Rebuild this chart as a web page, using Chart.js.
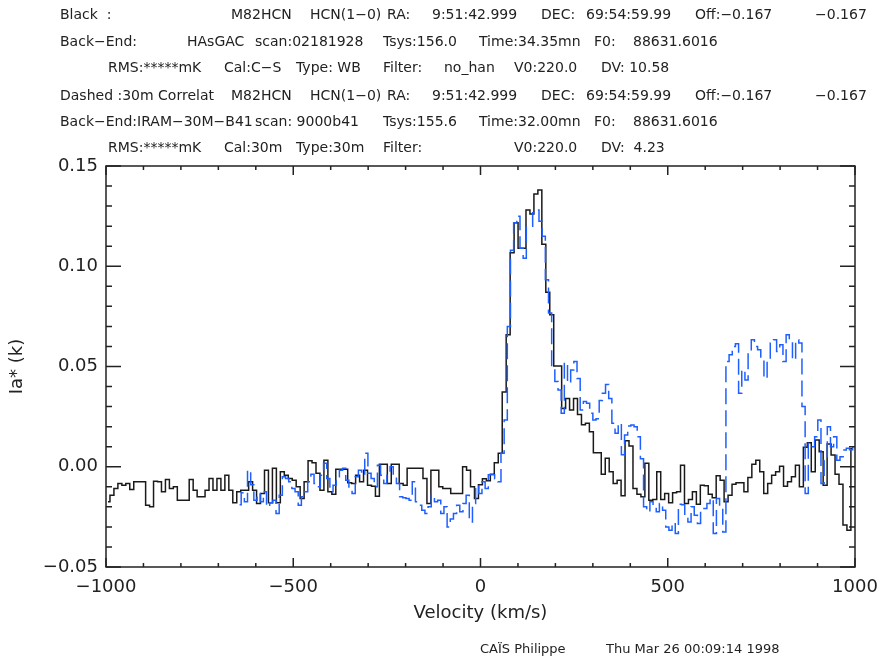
<!DOCTYPE html>
<html>
<head>
<meta charset="UTF-8">
<title>M82HCN HCN(1-0)</title>
<script src="https://cdn.jsdelivr.net/npm/chart.js"></script>
<style>
  html, body { margin: 0; padding: 0; background: #fff; }
  #wrap { width: 878px; height: 662px; position: relative; }
</style>
</head>
<body>
<div id="wrap"><canvas id="spec"></canvas></div>
<script>
// black spectrum: channels of 10.58 km/s starting at -1000 km/s
const blackStart = -1000;
const blackStep = 10.58;
const blackValues = [
  -0.0175, -0.0142, -0.0108, -0.0083, -0.0092, -0.0083, -0.0113, -0.0075, -0.0075, -0.0075,
  -0.0192, -0.02, -0.0072, -0.0075, -0.0125, -0.0063, -0.0108, -0.01, -0.0167, -0.0167,
  -0.0167, -0.0063, -0.0117, -0.015, -0.015, -0.0117, -0.0058, -0.0117, -0.0058, -0.0117,
  -0.0042, -0.0117, -0.018, -0.0125, -0.0117, -0.0117, -0.0075, -0.0117, -0.0183, -0.0133,
  -0.0017, -0.018, -0.0008, -0.018, -0.0025, -0.0042, -0.0058, -0.0067, -0.01, -0.0158,
  -0.0075, 0.003, 0.002, -0.0033, -0.0117, 0.0033, -0.0125, -0.0137, -0.0013, -0.0013,
  -0.0013, -0.008, -0.0083, -0.0042, -0.0075, -0.0017, -0.0092, -0.0097, -0.0147, 0.0013,
  0.0013, -0.0083, 0.0013, 0.0013, -0.0083, -0.0092, -0.0008, -0.0008, -0.0008, -0.0008,
  -0.0058, -0.0183, -0.0017, -0.0017, -0.01, -0.0108, -0.0108, -0.0133, -0.0133, -0.0133,
  0.0, -0.0017, -0.01, -0.0158,
  -0.009, -0.006, -0.007, -0.0037, 0.002, 0.0067, 0.0373, 0.0658, 0.1067, 0.1217,
  0.109, 0.109, 0.128, 0.126, 0.136, 0.138, 0.111, 0.087, 0.0758, 0.0503,
  0.0503, 0.029, 0.034, 0.0283, 0.034, 0.026, 0.021, 0.0217, 0.0175, 0.007,
  0.007,
  -0.0037, 0.0042, -0.0025, -0.0083, -0.0067, -0.0145, 0.013, 0.0103, -0.0108, -0.0137,
  -0.015, 0.0017, -0.0167, -0.0163, -0.0025, -0.0163, -0.0133, -0.018, -0.013, -0.0125,
  0.0008, -0.0183, -0.0163, -0.0125, -0.0187, -0.0092, -0.0095, -0.0137, -0.0155, -0.0045,
  -0.0067, -0.0175,
  -0.0142, -0.0087, -0.008, -0.008, -0.0125, -0.0053, 0.0013, 0.0033, -0.0025, -0.0133,
  -0.0083, -0.0042, -0.0025, 0.0003, -0.0097, -0.0075, -0.005, 0.0007, -0.01, 0.0097,
  0.012, -0.0025, 0.0133, 0.0075, -0.0092, 0.0113, 0.0058, -0.0037, -0.0087, -0.029,
  -0.0317, 0.009
];

// dashed (30m correlator) spectrum, read every 8.46 km/s from -647.5 km/s
const blueStart = -647.5;
const blueStep = 8.46;
const blueValues = [
  -0.019, -0.013, -0.0175, -0.0017, -0.009, -0.0167, -0.0133, -0.0175, -0.0125, -0.02,
  -0.018, -0.0167, -0.0233, -0.0142, -0.005, -0.0058, -0.0075, -0.0108, -0.0125, -0.0192,
  -0.015, -0.0125, -0.0075, -0.0037, -0.0083, -0.01, -0.0042, 0.0017, -0.0058, -0.0125,
  -0.0092, -0.005, -0.0017, -0.0008, -0.0067, -0.0117, -0.0133, -0.005, -0.0017, -0.0042,
  0.0067, -0.0033, -0.0058, -0.01, 0.0008, -0.0042, -0.0083, -0.0025, 0.0, -0.005,
  -0.0083, -0.015, -0.0155, -0.0158, -0.0167, -0.0075, -0.0175, -0.0192, -0.0217, -0.0233,
  -0.02, -0.0142, -0.0175, -0.0167, -0.0233, -0.02, -0.03, -0.026, -0.0233, -0.0192,
  -0.0225, -0.0183, -0.0142, -0.0275, -0.0183, -0.0092,
  -0.0133, -0.0075, -0.0108, -0.004, -0.004, -0.006, -0.0075, 0.0067, 0.0233, 0.07,
  0.108, 0.1217, 0.125, 0.109, 0.104, 0.12, 0.12, 0.1267, 0.128, 0.1225,
  0.115, 0.0933, 0.0767, 0.05, 0.0425, 0.0383, 0.0267, 0.052, 0.0417, 0.0483,
  0.0525, 0.044, 0.0283, 0.0325, 0.0317, 0.0267, 0.0233, 0.024,
  0.033, 0.0367, 0.041, 0.034, 0.0217, 0.0167, 0.0217, 0.006, 0.0158, 0.0203,
  0.0208, 0.02, 0.015, 0.004, -0.02, -0.0225, -0.0175, -0.0192, -0.0225, -0.0183,
  -0.0217, -0.03, -0.0317, -0.028, -0.0333, -0.0187, -0.019, -0.025, -0.0275, -0.02,
  -0.0242, -0.0283, -0.0208, -0.0208, -0.0183, -0.0158, -0.0333, -0.0158, -0.02, -0.0325,
  0.0525, 0.0558, 0.06, 0.0613, 0.0367, 0.0483, 0.0433, 0.0575, 0.0633, 0.06,
  0.0583, 0.0533, 0.044, 0.0533, 0.0617, 0.0633, 0.0575, 0.0608, 0.0525, 0.0658,
  0.0625, 0.0533, 0.0633, 0.0617, 0.03, -0.0133, 0.0117, 0.01, 0.015, 0.0233,
  -0.0083, 0.0033, 0.02, 0.01, 0.015, 0.0033, 0.005, 0.0083, 0.0092, 0.0085,
  0.01
];

const xTicks = [-1000, -500, 0, 500, 1000];
const yTicks = [-0.05, 0, 0.05, 0.10, 0.15];

// header lines of the CLASS plot, [text, x]
const headerLines = [
  [['Black  :', 60], ['M82HCN', 231], ['HCN(1-0)', 310], ['RA:', 387], ['9:51:42.999', 432], ['DEC:', 541], ['69:54:59.99', 586], ['Off:-0.167', 695], ['-0.167', 815]],
  [['Back-End:', 60], ['HAsGAC', 187], ['scan:02181928', 255], ['Tsys:156.0', 383], ['Time:34.35mn', 479], ['F0:', 594], ['88631.6016', 633]],
  [['RMS:*****mK', 108], ['Cal:C-S', 224], ['Type: WB', 296], ['Filter:', 383], ['no_han', 444], ['V0:220.0', 514], ['DV: 10.58', 601]],
  [['Dashed :30m Correlat', 60], ['M82HCN', 231], ['HCN(1-0)', 310], ['RA:', 387], ['9:51:42.999', 432], ['DEC:', 541], ['69:54:59.99', 586], ['Off:-0.167', 695], ['-0.167', 815]],
  [['Back-End:IRAM-30M-B41', 60], ['scan: 9000b41', 255], ['Tsys:155.6', 383], ['Time:32.00mn', 479], ['F0:', 594], ['88631.6016', 633]],
  [['RMS:*****mK', 108], ['Cal:30m', 224], ['Type:30m', 296], ['Filter:', 383], ['V0:220.0', 514], ['DV:  4.23', 601]]
];
const headerY = [15, 42, 68, 96, 122, 148];

const blackData = blackValues.map((v, i) => ({ x: blackStart + (i + 0.5) * blackStep, y: v }));
const blueData = blueValues.map((v, i) => ({ x: blueStart + (i + 0.5) * blueStep, y: v }));

const minus = s => s.replace(/-/g, '\u2212');

const decor = {
  id: 'decor',
  afterDatasetsDraw(chart) {
    const { ctx, chartArea: a, scales: { x, y } } = chart;
    ctx.save();
    ctx.strokeStyle = '#222';
    ctx.lineWidth = 1.5;
    ctx.strokeRect(a.left, a.top, a.right - a.left, a.bottom - a.top);
    ctx.beginPath();
    for (let v = -1000; v <= 1000; v += 100) {
      const px = x.getPixelForValue(v);
      const len = v % 500 === 0 ? 9 : 4;
      ctx.moveTo(px, a.bottom); ctx.lineTo(px, a.bottom - len);
      ctx.moveTo(px, a.top); ctx.lineTo(px, a.top + len);
    }
    for (let i = -5; i <= 15; i++) {
      const py = y.getPixelForValue(i / 100);
      const len = i % 5 === 0 ? 15 : 6;
      ctx.moveTo(a.left, py); ctx.lineTo(a.left + len, py);
      ctx.moveTo(a.right, py); ctx.lineTo(a.right - len, py);
    }
    ctx.stroke();
    ctx.restore();
  },
  afterDraw(chart) {
    const ctx = chart.ctx;
    ctx.save();
    ctx.fillStyle = '#222';
    ctx.textBaseline = 'middle';
    ctx.font = '14px "DejaVu Sans"';
    headerLines.forEach((line, r) => {
      line.forEach(([t, px]) => ctx.fillText(minus(t), px, headerY[r]));
    });
    ctx.font = '13px "DejaVu Sans"';
    ctx.fillText('CAÏS Philippe', 480, 650);
    ctx.fillText('Thu Mar 26 00:09:14 1998', 606, 650);
    ctx.restore();
  }
};

new Chart(document.getElementById('spec'), {
  type: 'line',
  data: {
    datasets: [
      {
        label: 'Dashed :30m Correlat',
        data: blueData,
        borderColor: '#1f5fff',
        borderWidth: 1.5,
        borderDash: [16, 6],
        stepped: 'middle',
        pointRadius: 0,
        fill: false
      },
      {
        label: 'Black',
        data: blackData,
        borderColor: '#1a1a1a',
        borderWidth: 1.5,
        stepped: 'middle',
        pointRadius: 0,
        fill: false
      }
    ]
  },
  options: {
    responsive: true,
    maintainAspectRatio: false,
    animation: false,
    events: [],
    layout: { padding: { top: 166, right: 23, left: 0, bottom: 0 } },
    plugins: { legend: { display: false }, tooltip: { enabled: false } },
    scales: {
      x: {
        type: 'linear',
        min: -1000,
        max: 1000,
        grid: { display: false, drawTicks: false },
        border: { display: false },
        afterBuildTicks: s => { s.ticks = xTicks.map(v => ({ value: v })); },
        afterFit: s => { s.height = 95; s.paddingLeft = 0; s.paddingRight = 0; },
        ticks: {
          autoSkip: false,
          maxRotation: 0,
          padding: 10,
          color: '#222',
          font: { family: 'DejaVu Sans', size: 18 },
          callback: v => minus(String(v))
        },
        title: {
          display: true,
          text: 'Velocity (km/s)',
          color: '#222',
          font: { family: 'DejaVu Sans', size: 18 },
          padding: { top: 0, bottom: 38 }
        }
      },
      y: {
        min: -0.05,
        max: 0.15,
        grid: { display: false, drawTicks: false },
        border: { display: false },
        afterBuildTicks: s => { s.ticks = yTicks.map(v => ({ value: v })); },
        afterFit: s => { s.width = 106; },
        ticks: {
          padding: 8,
          color: '#222',
          font: { family: 'DejaVu Sans', size: 18 },
          callback: v => minus(Number(v).toFixed(2))
        },
        title: {
          display: true,
          text: 'Ia* (k)',
          color: '#222',
          font: { family: 'DejaVu Sans', size: 18 },
          padding: { top: 7, bottom: 0 }
        }
      }
    }
  },
  plugins: [decor]
});
</script>
</body>
</html>
